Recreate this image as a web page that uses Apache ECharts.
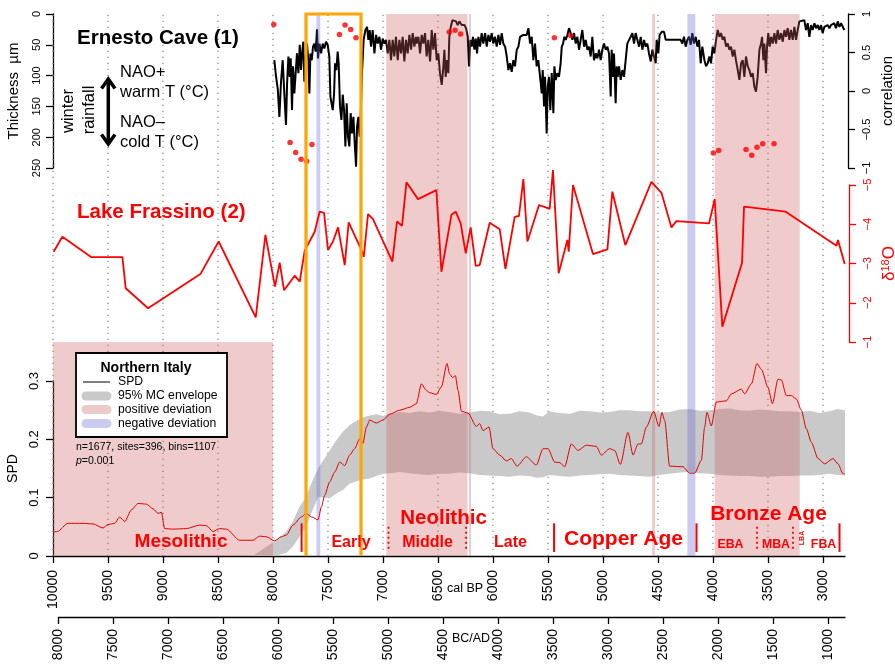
<!DOCTYPE html>
<html><head><meta charset="utf-8">
<script src="https://cdn.jsdelivr.net/npm/echarts@6/dist/echarts.min.js"></script>
<style>html,body{margin:0;padding:0;background:#fff}#c{width:895px;height:664px}</style>
</head><body><div id="c"></div><script>
// ---------- DATA ----------
const calBPTicks = [10000,9500,9000,8500,8000,7500,7000,6500,6000,5500,5000,4500,4000,3500,3000];
const bcadTicks = [8000,7500,7000,6500,6000,5500,5000,4500,4000,3500,3000,2500,2000,1500,1000];

// Ernesto Cave lamina thickness (µm) vs cal BP
const ernestoBP = [7988,7972,7957,7942,7927,7912,7897,7882,7872,7860,7848,7839,7827,7818,7806,7794,7782,7769,7757,7745,7736,7724,7715,7703,7691,7679,7669,7660,7648,7636,7624,7612,7600,7591,7578,7563,7548,7533,7518,7503,7488,7478,7466,7457,7445,7436,7424,7412,7403,7391,7378,7366,7354,7342,7330,7318,7306,7294,7282,7269,7257,7245,7236,7224,7212,7203,7191,7176,7160,7145,7133,7121,7109,7094,7078,7063,7048,7033,7018,7003,6988,6973,6957,6942,6927,6912,6897,6882,6866,6851,6836,6821,6806,6791,6776,6760,6745,6730,6715,6700,6694,6678,6663,6648,6633,6618,6603,6588,6572,6557,6542,6527,6512,6497,6482,6466,6451,6442,6430,6418,6406,6397,6384,6369,6351,6336,6321,6306,6285,6260,6245,6230,6218,6206,6194,6182,6169,6157,6145,6133,6118,6103,6088,6072,6057,6042,6027,6012,5997,5982,5966,5951,5936,5921,5906,5890,5875,5860,5845,5830,5815,5800,5784,5769,5754,5739,5724,5709,5694,5678,5663,5648,5633,5618,5603,5588,5572,5557,5548,5536,5527,5512,5503,5491,5479,5466,5451,5442,5430,5415,5400,5385,5375,5363,5351,5339,5324,5309,5294,5278,5263,5248,5233,5218,5203,5188,5172,5157,5142,5127,5112,5097,5082,5066,5051,5036,5021,5006,4991,4975,4960,4945,4930,4921,4909,4900,4885,4876,4866,4854,4839,4824,4809,4794,4779,4763,4748,4733,4718,4703,4688,4672,4657,4642,4627,4612,4597,4582,4566,4551,4536,4521,4512,4497,4485,4466,4445,4430,4294,4279,4264,4248,4233,4218,4203,4188,4173,4157,4142,4127,4112,4097,4078,4063,4048,4033,4018,4003,3987,3972,3957,3942,3927,3912,3897,3881,3866,3851,3836,3821,3806,3791,3775,3760,3745,3730,3715,3700,3684,3669,3654,3639,3624,3609,3594,3578,3563,3554,3542,3533,3518,3509,3497,3485,3472,3457,3442,3427,3412,3397,3381,3366,3351,3336,3321,3306,3291,3275,3260,3245,3230,3215,3200,3170,3154,3139,3124,3109,3094,3078,3063,3048,3033,3018,3003,2988,2973,2958,2942,2927,2912,2897,2882,2866,2851,2836,2821,2806];
const ernestoThickness = [75,102,121,167,110,75,129,180,113,69,102,72,156,85,129,96,64,96,50,91,64,45,110,72,48,75,129,64,75,53,48,61,25,72,48,64,48,56,45,50,69,134,137,156,131,80,91,61,80,150,172,131,156,215,145,199,215,161,194,167,210,248,183,167,199,167,96,42,26,21,42,26,53,26,64,34,48,37,58,40,48,42,64,42,75,42,69,37,75,42,64,37,77,42,64,34,58,31,53,37,48,37,64,34,48,31,69,42,77,26,58,31,75,64,96,115,85,58,102,75,96,37,21,10,7,12,18,12,18,18,23,37,85,42,53,37,58,40,64,37,53,31,48,31,53,34,45,31,48,37,53,34,50,31,48,53,69,91,80,94,75,85,58,53,37,37,34,31,34,23,48,37,75,48,85,75,102,129,91,150,102,194,118,102,156,96,161,85,107,96,102,80,53,48,37,42,34,23,31,42,31,48,37,58,42,26,53,42,58,53,69,37,75,64,72,58,75,58,48,58,53,64,134,58,102,64,145,85,102,85,107,91,102,75,48,42,37,31,48,31,42,53,37,58,42,53,48,64,77,58,69,80,42,64,34,29,29,42,42,48,37,53,42,37,50,31,48,37,53,42,80,53,75,85,80,69,80,53,64,42,26,37,31,42,37,53,48,58,53,69,58,75,91,107,80,75,102,69,85,91,102,96,118,126,102,58,48,37,75,48,96,53,31,53,37,48,31,48,26,42,31,45,26,37,23,42,26,42,21,42,26,12,10,10,26,15,37,18,26,15,23,18,26,18,31,21,23,18,23,18,21,15,23,12,21,15,18,26];

// Ernesto Cave correlation (red dots, right axis)
const corrBP = [7993,7845,7794,7745,7694,7646,7396,7345,7294,7246,6397,6345,6294,5442,5294,3997,3948,3700,3648,3600,3548,3445];
const corrValue = [0.865,-0.669,-0.80,-0.887,-0.913,-0.695,0.735,0.856,0.80,0.69,0.765,0.79,0.74,0.69,0.72,-0.804,-0.774,-0.761,-0.834,-0.73,-0.686,-0.686];

// Lake Frassino d18O
const frassinoBP = [9994,9915,9651,9369,9339,9136,8660,8494,8157,8069,7982,7939,7900,7803,7757,7712,7621,7576,7536,7500,7455,7409,7348,7312,7196,7175,7136,7091,6915,6873,6827,6787,6682,6515,6469,6378,6339,6294,6248,6203,6157,6121,6030,5939,5887,5803,5764,5724,5687,5582,5485,5455,5403,5324,5312,5273,5091,4960,4915,4797,4560,4469,4378,4333,4036,3985,3915,3736,3718,3339,2878,2864,2803];
const frassinoD18O = [-3.30,-3.68,-3.16,-3.16,-2.37,-1.86,-2.73,-3.56,-1.63,-3.73,-2.41,-3.02,-2.32,-2.69,-2.54,-3.33,-3.81,-4.32,-4.29,-3.34,-3.56,-3.92,-2.96,-4.05,-3.34,-3.17,-4.26,-4.13,-3.05,-4.07,-3.96,-5.07,-4.64,-4.87,-2.79,-4.24,-4.32,-4.02,-3.26,-3.92,-2.94,-2.96,-4.04,-3.87,-2.86,-4.19,-4.21,-5.15,-3.56,-4.49,-4.39,-5.38,-2.75,-3.60,-3.30,-5.00,-3.24,-3.36,-4.83,-3.47,-5.08,-4.80,-3.92,-4.08,-4.02,-4.64,-1.39,-3.02,-4.45,-4.32,-3.45,-3.60,-2.99];

// SPD Northern Italy
const spdBP = [10000,9960,9864,9727,9636,9545,9500,9439,9394,9348,9287,9227,9151,9091,9045,9015,8985,8909,8788,8667,8606,8545,8485,8424,8303,8182,8121,8060,7985,7924,7878,7818,7742,7697,7651,7591,7560,7530,7485,7439,7394,7348,7303,7258,7212,7182,7151,7121,7061,7000,6939,6848,6757,6697,6651,6606,6576,6515,6469,6418,6394,6369,6342,6318,6287,6227,6151,6121,6091,6036,6000,5939,5878,5833,5782,5697,5606,5545,5500,5439,5394,5348,5288,5227,5151,5061,5015,4939,4894,4842,4773,4727,4682,4652,4606,4539,4491,4464,4439,4394,4273,4212,4167,4106,4076,4055,4015,3970,3879,3833,3742,3712,3651,3600,3560,3500,3460,3409,3379,3333,3288,3242,3197,3151,3106,3045,2985,2909,2864,2818,2803];
const spdValue = [0.041,0.042,0.056,0.056,0.055,0.048,0.054,0.056,0.067,0.059,0.079,0.090,0.089,0.081,0.073,0.075,0.047,0.046,0.047,0.053,0.052,0.042,0.047,0.046,0.027,0.027,0.034,0.033,0.026,0.033,0.036,0.053,0.067,0.073,0.067,0.062,0.084,0.104,0.127,0.144,0.161,0.155,0.173,0.184,0.201,0.193,0.221,0.233,0.228,0.233,0.243,0.250,0.255,0.261,0.295,0.284,0.280,0.277,0.290,0.330,0.312,0.306,0.309,0.284,0.248,0.245,0.222,0.227,0.215,0.221,0.184,0.173,0.163,0.167,0.154,0.170,0.156,0.184,0.184,0.161,0.160,0.153,0.192,0.181,0.190,0.188,0.173,0.184,0.181,0.157,0.212,0.173,0.192,0.192,0.221,0.248,0.222,0.246,0.232,0.154,0.153,0.142,0.142,0.164,0.221,0.246,0.223,0.264,0.266,0.278,0.286,0.278,0.295,0.330,0.320,0.289,0.261,0.303,0.302,0.275,0.275,0.269,0.250,0.218,0.195,0.167,0.158,0.167,0.158,0.141,0.141];

// 95% MC envelope
const envBP = [8185,8060,7970,7880,7820,7760,7700,7640,7590,7485,7425,7365,7305,7240,7180,7120,7060,7000,6940,6850,6760,6670,6580,6490,6400,6310,6210,6120,6030,5940,5850,5760,5670,5600,5545,5490,5400,5300,5210,5120,5030,4940,4850,4760,4670,4580,4490,4395,4300,4210,4120,4030,3940,3850,3760,3670,3580,3485,3395,3300,3210,3120,3030,2940,2870,2800];
const envUpper = [0.000,0.016,0.027,0.042,0.059,0.084,0.101,0.130,0.150,0.181,0.198,0.213,0.224,0.232,0.238,0.241,0.243,0.240,0.244,0.247,0.245,0.248,0.246,0.249,0.247,0.244,0.246,0.249,0.248,0.243,0.244,0.248,0.246,0.241,0.239,0.248,0.245,0.244,0.249,0.248,0.246,0.247,0.250,0.250,0.248,0.248,0.246,0.247,0.251,0.252,0.249,0.250,0.252,0.253,0.250,0.249,0.251,0.250,0.248,0.248,0.247,0.249,0.245,0.248,0.252,0.250];
const envLower = [0,0,0.001,0.005,0.016,0.033,0.050,0.079,0.101,0.099,0.107,0.113,0.124,0.128,0.131,0.133,0.137,0.141,0.142,0.144,0.142,0.140,0.139,0.141,0.141,0.143,0.142,0.139,0.138,0.137,0.136,0.138,0.137,0.134,0.135,0.139,0.137,0.136,0.138,0.139,0.140,0.141,0.139,0.138,0.137,0.136,0.139,0.141,0.143,0.144,0.142,0.141,0.139,0.138,0.137,0.137,0.136,0.136,0.137,0.137,0.138,0.138,0.139,0.141,0.139,0.138];

// deviation spans (cal BP from, to, 'all' panels or 'spd' only)
const positiveDeviation = [[10000,8000,'spd'],[6970,6232,'all'],[6218,6200,'all'],[4553,4527,'all'],[3985,3212,'all']];
const negativeDeviation = [[7605,7570],[4233,4160]];
const highlightWindow = [[7700,7200]];

// cultural period boundaries (cal BP, solid=1 / dotted=0)
const periodBounds = [[7740,1],[6950,0],[6245,0],[5445,1],[4150,1],[3600,0],[3273,0],[2850,1]];

// ---------- LAYOUT ----------
const FONT = '"Liberation Sans", Arial, Helvetica, sans-serif';
const BG_TOP = 542/585; // full panel height in SPD units
const PINK = 'rgba(205,92,92,0.32)';
const BLUE = 'rgba(100,100,220,0.33)';
const RED = '#ff0000';

const minus = v => (v < 0 ? '\u2212' : '') + Math.abs(+v.toFixed(2));
const plain = v => String(Math.round(v));

const xBase = {type:'value', min:2800, max:10000, inverse:true, show:false};

const option = {
  animation:false,
  backgroundColor:'#fff',
  grid:[
    {left:53,right:50,top:14,bottom:108,outerBoundsMode:'none'},
    {left:53,right:50,top:14,height:154,outerBoundsMode:'none'},
    {left:53,right:50,top:185,height:157,outerBoundsMode:'none'},
    {left:53,right:50,top:381,height:175,outerBoundsMode:'none'},
    {left:58.5,right:50,top:616,height:1,outerBoundsMode:'none'}
  ],
  xAxis:[
    Object.assign({gridIndex:0}, xBase),
    Object.assign({gridIndex:1}, xBase),
    Object.assign({gridIndex:2}, xBase),
    {gridIndex:3, type:'value', min:2800, max:10000, inverse:true, position:'bottom',
     axisLine:{show:true, onZero:false, lineStyle:{color:'#000', width:1.3}},
     axisTick:{show:true, length:7, customValues:calBPTicks, lineStyle:{color:'#000', width:1.3}},
     axisLabel:{show:true, customValues:calBPTicks, rotate:90, margin:14, fontSize:14, color:'#000', fontFamily:FONT, formatter:plain},
     splitLine:{show:false}},
    {gridIndex:4, type:'value', min:850, max:8000, inverse:true, position:'bottom',
     axisLine:{show:true, onZero:false, lineStyle:{color:'#000', width:1.3}},
     axisTick:{show:true, length:7, customValues:bcadTicks, lineStyle:{color:'#000', width:1.3}},
     axisLabel:{show:true, customValues:bcadTicks, rotate:90, margin:12, fontSize:14, color:'#000', fontFamily:FONT, formatter:plain},
     splitLine:{show:false}}
  ],
  yAxis:[
    {gridIndex:0, type:'value', min:0, max:BG_TOP, show:false},
    {gridIndex:1, type:'value', min:0, max:250, interval:50, inverse:true, position:'left',
     name:'Thickness  \u00b5m', nameLocation:'middle', nameGap:32, nameRotate:90,
     nameTextStyle:{fontSize:15, color:'#000', fontFamily:FONT},
     axisLine:{show:true, lineStyle:{color:'#000', width:1.3}},
     axisTick:{show:true, length:7, lineStyle:{color:'#000', width:1.3}},
     axisLabel:{rotate:90, margin:11, fontSize:11, color:'#000', fontFamily:FONT},
     splitLine:{show:false}},
    {gridIndex:1, type:'value', min:-1, max:1, interval:0.5, position:'right', offset:3,
     name:'correlation', nameLocation:'middle', nameGap:32, nameRotate:90,
     nameTextStyle:{fontSize:15, color:'#000', fontFamily:FONT},
     axisLine:{show:true, lineStyle:{color:'#000', width:1.3}},
     axisTick:{show:true, length:7, lineStyle:{color:'#000', width:1.3}},
     axisLabel:{rotate:90, margin:13, fontSize:11, color:'#000', fontFamily:FONT, formatter:minus},
     splitLine:{show:false}},
    {gridIndex:2, type:'value', min:-5, max:-1, interval:1, inverse:true, position:'right', offset:4,
     name:'{d|\u03b4}{s|18}{d|O}', nameLocation:'middle', nameGap:31, nameRotate:90,
     nameTextStyle:{color:RED, fontFamily:FONT, rich:{d:{fontSize:17, color:RED, fontFamily:FONT}, s:{fontSize:11, color:RED, fontFamily:FONT, verticalAlign:'top'}}},
     axisLine:{show:true, lineStyle:{color:RED, width:1.3}},
     axisTick:{show:true, length:7, lineStyle:{color:RED, width:1.3}},
     axisLabel:{rotate:90, margin:13, fontSize:11, color:RED, fontFamily:FONT, formatter:minus},
     splitLine:{show:false}},
    {gridIndex:3, type:'value', min:0, max:0.3, interval:0.1, position:'left',
     name:'SPD', nameLocation:'middle', nameGap:31, nameRotate:90,
     nameTextStyle:{fontSize:14, color:'#000', fontFamily:FONT},
     axisLine:{show:true, onZero:false, lineStyle:{color:'#000', width:1.3}},
     axisTick:{show:true, length:7, lineStyle:{color:'#000', width:1.3}},
     axisLabel:{rotate:90, margin:12, fontSize:13, color:'#000', fontFamily:FONT, formatter:v=>String(+(+v).toFixed(1))},
     splitLine:{show:false}},
    {gridIndex:4, type:'value', min:0, max:1, show:false}
  ],
  series:[
    // dotted grid lines
    {type:'custom', xAxisIndex:0, yAxisIndex:0, z:1, silent:true,
     data: calBPTicks.map(v=>[v,0]),
     renderItem:(p,api)=>{const v=api.value(0); const a=api.coord([v,0]); const b=api.coord([v,BG_TOP]);
       return {type:'line', shape:{x1:a[0],y1:a[1],x2:b[0],y2:b[1]}, style:{stroke:'#8a8a8a', lineWidth:1.3, lineDash:[1.3,4.7]}};}},
    // envelope
    {type:'custom', xAxisIndex:3, yAxisIndex:4, z:1, silent:true,
     data:[[envBP[0], envUpper[0]]],
     renderItem:(p,api)=>{const pts=[]; for(let i=0;i<envBP.length;i++) pts.push(api.coord([envBP[i],envUpper[i]]));
       for(let i=envBP.length-1;i>=0;i--) pts.push(api.coord([envBP[i],envLower[i]]));
       return {type:'polygon', shape:{points:pts}, style:{fill:'#c9c9c9'}};}},
    // Ernesto thickness
    {type:'line', xAxisIndex:1, yAxisIndex:1, z:2, symbol:'none', silent:true,
     data: ernestoBP.map((b,i)=>[b, ernestoThickness[i]]),
     lineStyle:{color:'#000', width:2}},
    // positive deviation
    {type:'custom', xAxisIndex:0, yAxisIndex:0, z:3, silent:true,
     data: positiveDeviation.map(d=>[d[0], d[1], d[2]==='spd'?0.366:BG_TOP]),
     renderItem:(p,api)=>{const a=api.coord([api.value(0), api.value(2)]); const b=api.coord([api.value(1), 0]);
       return {type:'rect', shape:{x:Math.min(a[0],b[0]), y:a[1], width:Math.abs(b[0]-a[0]), height:b[1]-a[1]}, style:{fill:PINK}};}},
    // negative deviation
    {type:'custom', xAxisIndex:0, yAxisIndex:0, z:3, silent:true,
     data: negativeDeviation.map(d=>[d[0], d[1]]),
     renderItem:(p,api)=>{const a=api.coord([api.value(0), BG_TOP]); const b=api.coord([api.value(1), 0]);
       return {type:'rect', shape:{x:Math.min(a[0],b[0]), y:a[1], width:Math.abs(b[0]-a[0]), height:b[1]-a[1]}, style:{fill:BLUE}};}},
    // correlation dots
    {type:'scatter', xAxisIndex:1, yAxisIndex:2, z:4, silent:true, symbolSize:5.5,
     data: corrBP.map((b,i)=>[b, corrValue[i]]), itemStyle:{color:RED}},
    // Frassino
    {type:'line', xAxisIndex:2, yAxisIndex:3, z:4, symbol:'none', silent:true, clip:false,
     data: frassinoBP.map((b,i)=>[b, frassinoD18O[i]]), lineStyle:{color:RED, width:1.8}},
    // SPD
    {type:'line', xAxisIndex:3, yAxisIndex:4, z:4, symbol:'none', silent:true, clip:false, smooth:0.25, smoothMonotone:'x',
     data: spdBP.map((b,i)=>[b, spdValue[i]]), lineStyle:{color:'#e00000', width:1}},
    // period boundaries
    {type:'custom', xAxisIndex:3, yAxisIndex:4, z:5, silent:true,
     data: periodBounds.map(d=>[d[0], d[1]]),
     renderItem:(p,api)=>{const solid=api.value(1)===1; const a=api.coord([api.value(0), solid?0.056:0.05]); const b=api.coord([api.value(0), solid?0.007:0.012]);
       return {type:'line', shape:{x1:a[0],y1:a[1],x2:b[0],y2:b[1]}, style:{stroke:RED, lineWidth:solid?2:1.8, lineDash:solid?null:[2,3]}};}},
    // orange highlight window
    {type:'custom', xAxisIndex:0, yAxisIndex:0, z:6, silent:true,
     data: highlightWindow.map(d=>[d[0], d[1]]),
     renderItem:(p,api)=>{const x0=api.value(0), x1=api.value(1);
       const pts=[api.coord([x0,0]), api.coord([x0,BG_TOP]), api.coord([x1,BG_TOP]), api.coord([x1,0])];
       return {type:'polyline', shape:{points:pts}, style:{stroke:'#ffa500', lineWidth:3.2, fill:null}};}}
  ],
  graphic:[
    {type:'text', x:77, y:38, z:10, style:{text:'Ernesto Cave (1)', font:'bold 20.5px '+FONT, fill:'#000', align:'left', verticalAlign:'middle'}},
    {type:'text', x:77, y:212, z:10, style:{text:'Lake Frassino (2)', font:'bold 20.5px '+FONT, fill:RED, align:'left', verticalAlign:'middle'}},
    {type:'text', x:68, y:111, rotation:Math.PI/2, z:10, style:{text:'winter', font:'16.5px '+FONT, fill:'#000', align:'center', verticalAlign:'middle'}},
    {type:'text', x:89, y:110, rotation:Math.PI/2, z:10, style:{text:'rainfall', font:'16.5px '+FONT, fill:'#000', align:'center', verticalAlign:'middle'}},
    {type:'line', z:10, shape:{x1:108.3,y1:80,x2:108.3,y2:143}, style:{stroke:'#000', lineWidth:3.5}},
    {type:'polyline', z:10, shape:{points:[[101.5,88.5],[108.3,79],[115,88.5]]}, style:{stroke:'#000', lineWidth:3.5, fill:null}},
    {type:'polyline', z:10, shape:{points:[[101.5,134.5],[108.3,144],[115,134.5]]}, style:{stroke:'#000', lineWidth:3.5, fill:null}},
    {type:'text', x:120, y:72, z:10, style:{text:'NAO+', font:'16.5px '+FONT, fill:'#000', align:'left', verticalAlign:'middle'}},
    {type:'text', x:120, y:92, z:10, style:{text:'warm T (\u00b0C)', font:'16.5px '+FONT, fill:'#000', align:'left', verticalAlign:'middle'}},
    {type:'text', x:120, y:122, z:10, style:{text:'NAO\u2013', font:'16.5px '+FONT, fill:'#000', align:'left', verticalAlign:'middle'}},
    {type:'text', x:120, y:142, z:10, style:{text:'cold T (\u00b0C)', font:'16.5px '+FONT, fill:'#000', align:'left', verticalAlign:'middle'}},
    // legend
    {type:'rect', z:10, shape:{x:76,y:353,width:151,height:84}, style:{fill:'#fff', stroke:'#000', lineWidth:1.8}},
    {type:'text', x:146, y:368, z:11, style:{text:'Northern Italy', font:'bold 14px '+FONT, fill:'#000', align:'center', verticalAlign:'middle'}},
    {type:'line', z:11, shape:{x1:83,y1:382,x2:110,y2:382}, style:{stroke:'#000', lineWidth:1}},
    {type:'line', z:11, shape:{x1:86,y1:396,x2:107,y2:396}, style:{stroke:'#c9c9c9', lineWidth:9, lineCap:'round'}},
    {type:'line', z:11, shape:{x1:86,y1:409.5,x2:107,y2:409.5}, style:{stroke:'#edcaca', lineWidth:9, lineCap:'round'}},
    {type:'line', z:11, shape:{x1:86,y1:423.5,x2:107,y2:423.5}, style:{stroke:'#cbcbf2', lineWidth:9, lineCap:'round'}},
    {type:'text', x:118, y:382, z:11, style:{text:'SPD', font:'12.2px '+FONT, fill:'#000', align:'left', verticalAlign:'middle'}},
    {type:'text', x:118, y:396, z:11, style:{text:'95% MC envelope', font:'12.2px '+FONT, fill:'#000', align:'left', verticalAlign:'middle'}},
    {type:'text', x:118, y:409.5, z:11, style:{text:'positive deviation', font:'12.2px '+FONT, fill:'#000', align:'left', verticalAlign:'middle'}},
    {type:'text', x:118, y:423.5, z:11, style:{text:'negative deviation', font:'12.2px '+FONT, fill:'#000', align:'left', verticalAlign:'middle'}},
    {type:'text', x:76, y:447.5, z:11, style:{text:'n=1677, sites=396, bins=1107', font:'10.5px '+FONT, fill:'#000', align:'left', verticalAlign:'middle'}},
    {type:'text', x:76, y:461, z:11, style:{text:'{i|p}=0.001', font:'10.5px '+FONT, fill:'#000', align:'left', verticalAlign:'middle', rich:{i:{font:'italic 10.5px '+FONT, fill:'#000'}}}},
    // period labels
    {type:'text', x:181, y:542, z:11, style:{text:'Mesolithic', font:'bold 19px '+FONT, fill:RED, align:'center', verticalAlign:'middle'}},
    {type:'text', x:351, y:543, z:11, style:{text:'Early', font:'bold 16px '+FONT, fill:RED, align:'center', verticalAlign:'middle'}},
    {type:'text', x:443.5, y:518, z:11, style:{text:'Neolithic', font:'bold 20.5px '+FONT, fill:RED, align:'center', verticalAlign:'middle'}},
    {type:'text', x:427.5, y:543, z:11, style:{text:'Middle', font:'bold 16px '+FONT, fill:RED, align:'center', verticalAlign:'middle'}},
    {type:'text', x:510.5, y:543, z:11, style:{text:'Late', font:'bold 16px '+FONT, fill:RED, align:'center', verticalAlign:'middle'}},
    {type:'text', x:623.5, y:539.5, z:11, style:{text:'Copper Age', font:'bold 21px '+FONT, fill:RED, align:'center', verticalAlign:'middle'}},
    {type:'text', x:768.5, y:514, z:11, style:{text:'Bronze Age', font:'bold 21px '+FONT, fill:RED, align:'center', verticalAlign:'middle'}},
    {type:'text', x:730.5, y:545, z:11, style:{text:'EBA', font:'bold 12.3px '+FONT, fill:RED, align:'center', verticalAlign:'middle'}},
    {type:'text', x:776, y:545, z:11, style:{text:'MBA', font:'bold 12.3px '+FONT, fill:RED, align:'center', verticalAlign:'middle'}},
    {type:'text', x:802, y:538, rotation:Math.PI/2, z:11, style:{text:'LBA', font:'bold 7px '+FONT, fill:RED, align:'center', verticalAlign:'middle'}},
    {type:'text', x:823.5, y:545, z:11, style:{text:'FBA', font:'bold 12.3px '+FONT, fill:RED, align:'center', verticalAlign:'middle'}},
    // axis captions
    {type:'text', x:465, y:589, z:11, style:{text:'cal BP', font:'12.5px '+FONT, fill:'#000', align:'center', verticalAlign:'middle'}},
    {type:'text', x:471, y:639, z:11, style:{text:'BC/AD', font:'12.5px '+FONT, fill:'#000', align:'center', verticalAlign:'middle'}}
  ]
};
const chart = echarts.init(document.getElementById('c'), null, {renderer:'canvas'});
chart.setOption(option);
</script></body></html>
